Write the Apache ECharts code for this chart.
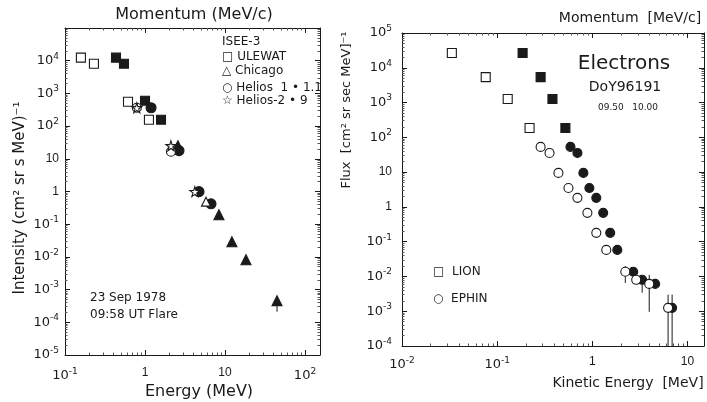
<!DOCTYPE html>
<html>
<head>
<meta charset="utf-8">
<script src="https://cdn.jsdelivr.net/npm/echarts@6/dist/echarts.min.js"></script>
<style>
  html, body { margin: 0; padding: 0; background: #fff; }
  #chart { width: 707px; height: 402px; }
</style>
</head>
<body>
<div id="chart"></div>
<script>
// ---- left panel: ISEE-3 / Helios, 23 Sep 1978 ----
const ulewatOpen = [[0.158, 12400], [0.23, 8100], [0.613, 557], [1.12, 157]];
const ulewatFilled = [[0.434, 12400], [0.546, 8100], [1.0, 598], [1.585, 157]];
const chicagoFilled = [[2.58, 25], [8.4, 0.195], [12.2, 0.029], [18.3, 0.0082], [44.7, 0.00046]];
const chicagoOpen = [[5.79, 0.49]];
const heliosOpen = [[0.79, 363], [2.11, 16.5]];
const heliosFilled = [[1.19, 363], [2.66, 17.8], [4.73, 0.99], [6.68, 0.42]];
const helios2Stars = [[0.79, 363], [2.11, 25], [4.2, 0.99]];
const leftErr = [[44.7, 0.00021, 0.00046]];

// ---- right panel: Electrons DoY96191 ----
const lionOpen = [[0.0334, 26600], [0.0758, 5400], [0.129, 1260], [0.219, 186]];
const lionFilled = [[0.185, 26600], [0.286, 5400], [0.381, 1260], [0.521, 186]];
const ephinOpen = [[0.286, 53], [0.355, 35.6], [0.44, 9.5], [0.561, 3.5], [0.697, 1.82],
  [0.887, 0.673], [1.10, 0.179], [1.40, 0.058], [2.22, 0.0136], [2.89, 0.008],
  [3.96, 0.0061], [6.25, 0.00125]];
const ephinFilled = [[0.589, 53], [0.697, 35.6], [0.805, 9.5], [0.931, 3.5], [1.10, 1.82],
  [1.30, 0.673], [1.54, 0.179], [1.83, 0.058], [2.69, 0.0136], [3.34, 0.008],
  [4.57, 0.0061], [6.89, 0.00125]];
const rightErr = [[2.22, 0.0065, 0.020], [3.34, 0.0034, 0.008], [3.96, 0.00096, 0.0111],
  [6.25, 0.0001, 0.003], [6.89, 0.0001, 0.003]];

const INK = '#1a1a1a';
const STAR = 'path://M50,0 L61,35 L98,35 L68,57 L79,91 L50,70 L21,91 L32,57 L2,35 L39,35 Z';
const FONT = 'DejaVu Sans';

function expLabel(v, skip) {
  const l = Math.log10(v);
  const n = Math.round(l);
  if (Math.abs(l - n) > 1e-6 || skip.indexOf(n) >= 0) return '';
  if (n === 0) return '1';
  if (n === 1) return '10';
  return '{b|10}{s|' + n + '}';
}
const rich = {
  b: { fontSize: 13, fontFamily: FONT, color: INK },
  s: { fontSize: 9, fontFamily: FONT, color: INK, padding: [0, 0, 9, 0] }
};

function logAxis(grid, pos, min, max, opts) {
  const shown = pos === 'bottom' || pos === 'left';
  return Object.assign({
    type: 'log', logBase: 10, gridIndex: grid, position: pos, min: min, max: max,
    interval: 1,
    axisLine: { show: true, onZero: false, lineStyle: { color: INK, width: 1 } },
    axisTick: { show: true, inside: true, length: 5, lineStyle: { color: INK } },
    minorTick: { show: true, splitNumber: 9, length: 2.5, lineStyle: { color: '#555' } },
    splitLine: { show: false },
    axisLabel: { show: shown, color: INK, fontFamily: FONT, rich: rich }
  }, opts || {});
}

function scatter(x, y, data, symbol, filled, size) {
  return {
    type: 'scatter', xAxisIndex: x, yAxisIndex: y, data: data, symbol: symbol,
    symbolSize: size, z: filled ? 3 : 4,
    itemStyle: { color: filled ? INK : '#fff', borderColor: INK, borderWidth: 1.1, opacity: 1 }
  };
}

function errBars(x, y, data) {
  return {
    type: 'custom', xAxisIndex: x, yAxisIndex: y, data: data, z: 2,
    renderItem: function (params, api) {
      const a = api.coord([api.value(0), api.value(1)]);
      const b = api.coord([api.value(0), api.value(2)]);
      return { type: 'line', shape: { x1: a[0], y1: a[1], x2: b[0], y2: b[1] },
        style: { stroke: INK, lineWidth: 1 } };
    }
  };
}

function txt(x, y, s, size, extra) {
  return Object.assign({ type: 'text', x: x, y: y,
    style: Object.assign({ text: s, fontSize: size, fontFamily: FONT, fill: INK }, extra && extra.style || {}) },
    extra && extra.el || {});
}

const chart = echarts.init(document.getElementById('chart'));
chart.setOption({
  animation: false,
  backgroundColor: '#fff',
  grid: [
    { left: 65, top: 28, width: 255, height: 327 },
    { left: 402, top: 33, width: 303, height: 313 }
  ],
  xAxis: [
    logAxis(0, 'bottom', 0.1, 154, { axisLabel: { color: INK, margin: 12, rich: rich, formatter: v => expLabel(v, []) } }),
    logAxis(0, 'top', 0.1, 154),
    logAxis(1, 'bottom', 0.01, 14.9, { axisLabel: { color: INK, margin: 10, rich: rich, formatter: v => expLabel(v, []) } }),
    logAxis(1, 'top', 0.01, 14.9)
  ],
  yAxis: [
    logAxis(0, 'left', 1e-5, 1e5, { axisLabel: { color: INK, margin: 6, rich: rich, formatter: v => expLabel(v, [5]) } }),
    logAxis(0, 'right', 1e-5, 1e5),
    logAxis(1, 'left', 1e-4, 1e5, { axisLabel: { color: INK, margin: 10, rich: rich, formatter: v => expLabel(v, []) } }),
    logAxis(1, 'right', 1e-4, 1e5)
  ],
  series: [
    errBars(0, 0, leftErr),
    scatter(0, 0, ulewatOpen, 'rect', false, 9),
    scatter(0, 0, ulewatFilled, 'rect', true, 9),
    scatter(0, 0, chicagoFilled, 'triangle', true, 10),
    scatter(0, 0, chicagoOpen, 'triangle', false, 9),
    scatter(0, 0, heliosFilled, 'circle', true, 10),
    scatter(0, 0, heliosOpen, 'circle', false, 9),
    scatter(0, 0, helios2Stars, STAR, false, 10),
    errBars(2, 2, rightErr),
    scatter(2, 2, lionOpen, 'rect', false, 9),
    scatter(2, 2, lionFilled, 'rect', true, 9),
    scatter(2, 2, ephinFilled, 'circle', true, 9),
    scatter(2, 2, ephinOpen, 'circle', false, 9)
  ],
  graphic: [
    // left titles
    txt(194, 15, 'Momentum (MeV/c)', 16, { style: { align: 'center', verticalAlign: 'middle' } }),
    txt(199, 392, 'Energy (MeV)', 16, { style: { align: 'center', verticalAlign: 'middle' } }),
    txt(20, 198, 'Intensity (cm² sr s MeV)⁻¹', 15, { style: { align: 'center', verticalAlign: 'middle' }, el: { rotation: Math.PI / 2 } }),
    // left legend + note
    txt(222, 42, 'ISEE-3', 12, { style: { verticalAlign: 'middle' } }),
    txt(222, 57, '□ ULEWAT', 12, { style: { verticalAlign: 'middle' } }),
    txt(222, 71, '△ Chicago', 12, { style: { verticalAlign: 'middle' } }),
    txt(222, 88, '○ Helios  1 • 1.1', 12, { style: { verticalAlign: 'middle' } }),
    txt(222, 101, '☆ Helios-2 • 9', 12, { style: { verticalAlign: 'middle' } }),
    txt(90, 298, '23 Sep 1978', 12, { style: { verticalAlign: 'middle' } }),
    txt(90, 315, '09:58 UT Flare', 12, { style: { verticalAlign: 'middle' } }),
    // right titles
    txt(630, 18, 'Momentum  [MeV/c]', 14, { style: { align: 'center', verticalAlign: 'middle' } }),
    txt(628, 383, 'Kinetic Energy  [MeV]', 14, { style: { align: 'center', verticalAlign: 'middle' } }),
    txt(347, 110, 'Flux  [cm² sr sec MeV]⁻¹', 13, { style: { align: 'center', verticalAlign: 'middle' }, el: { rotation: Math.PI / 2 } }),
    // right annotation + legend
    txt(624, 64, 'Electrons', 20, { style: { align: 'center', verticalAlign: 'middle' } }),
    txt(625, 87, 'DoY96191', 14, { style: { align: 'center', verticalAlign: 'middle' } }),
    txt(628, 108, '09.50   10.00', 9, { style: { align: 'center', verticalAlign: 'middle' } }),
    txt(433, 272, '□  LION', 12, { style: { verticalAlign: 'middle' } }),
    txt(433, 299, '○  EPHIN', 12, { style: { verticalAlign: 'middle' } })
  ]
});
</script>
</body>
</html>
